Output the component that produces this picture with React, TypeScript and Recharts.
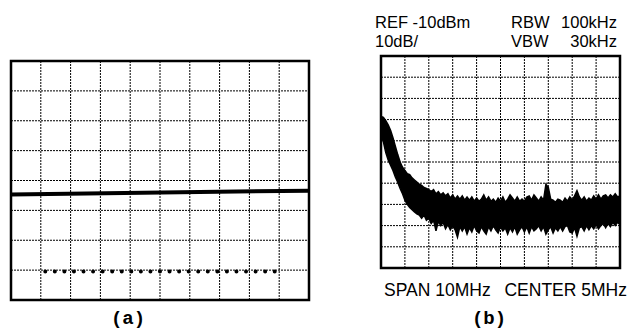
import React from 'react';
import { ComposedChart, Line, Area, XAxis, YAxis, ReferenceLine, ReferenceArea } from 'recharts';

// ---------- Panel (a) ----------
const A_GRID_COLS = [1, 2, 3, 4, 5, 6, 7, 8, 9];
const A_GRID_ROWS = [1, 2, 3, 4, 5, 6, 7];
const A_SOLID_X = [0, 10];
const A_SOLID_Y = [3.53, 3.66];
const A_DOTTED_X = [1.15, 8.87];
const A_DOTTED_Y = [0.95, 0.95];

// ---------- Panel (b) spectrum ----------
const B_GRID_MHZ = [1, 2, 3, 4, 5, 6, 7, 8, 9];
const B_GRID_DBM = [-100, -90, -80, -70, -60, -50, -40, -30, -20];
const FREQ_MHZ = [
  0, 0.1, 0.2, 0.3, 0.4, 0.5, 0.6, 0.7, 0.8, 0.9,
  1, 1.1, 1.2, 1.3, 1.4, 1.5, 1.6, 1.7, 1.8, 1.9,
  2, 2.1, 2.2, 2.3, 2.4, 2.5, 2.6, 2.7, 2.8, 2.9,
  3, 3.1, 3.2, 3.3, 3.4, 3.5, 3.6, 3.7, 3.8, 3.9,
  4, 4.1, 4.2, 4.3, 4.4, 4.5, 4.6, 4.7, 4.8, 4.9,
  5, 5.1, 5.2, 5.3, 5.4, 5.5, 5.6, 5.7, 5.8, 5.9,
  6, 6.1, 6.2, 6.3, 6.4, 6.5, 6.6, 6.7, 6.8, 6.9,
  7, 7.1, 7.2, 7.3, 7.4, 7.5, 7.6, 7.7, 7.8, 7.9,
  8, 8.1, 8.2, 8.3, 8.4, 8.5, 8.6, 8.7, 8.8, 8.9,
  9, 9.1, 9.2, 9.3, 9.4, 9.5, 9.6, 9.7, 9.8, 9.9,
  10,
];
const TRACE_HI_DBM = [
  -38.5, -39, -40.5, -42.5, -45, -48.5, -52.5, -56.5, -60, -62.5,
  -64, -65.5, -66, -67.5, -68.5, -69.5, -70.5, -71, -72, -72.5,
  -73, -74, -73, -75, -74, -75.5, -74.5, -76, -75, -77,
  -75.5, -77.5, -76, -77.5, -76, -78, -76.5, -78, -76.5, -78.5,
  -77, -78.5, -77.5, -75.5, -78, -76.5, -78.5, -77.5, -79, -77,
  -78.5, -76.5, -79, -77.5, -75.5, -77, -78.5, -76.5, -78.5, -77.5,
  -78.5, -76.5, -76, -78, -75.5, -77, -78.5, -76.5, -78, -70.5,
  -72, -77.5, -78, -79, -77.5, -78, -79, -77, -78.5, -76.5,
  -78, -76, -73.5, -76.5, -78, -76.5, -78.5, -77, -78, -76,
  -77.5, -75.5, -77.5, -76, -75.5, -77, -75.5, -76.5, -75, -76.5,
  -76,
];
const TRACE_LO_DBM = [
  -47, -50.5, -55.5, -59, -61.5, -64, -67, -69.5, -72.5, -75,
  -78, -80, -81.5, -82.5, -83.5, -84.5, -85, -86.5, -85, -87.5,
  -86.5, -89, -87.5, -92.5, -88, -90, -88.5, -91.5, -89.5, -92,
  -90, -92, -95.5, -90.5, -92.5, -90.5, -94, -91, -93, -90,
  -92.5, -93.5, -90.5, -92.5, -94, -90.5, -92.5, -90, -92, -93.5,
  -90.5, -92.5, -91, -94, -91, -93, -90.5, -94, -92, -90.5,
  -93, -90.5, -93.5, -90.5, -92.5, -91.5, -90, -92.5, -90.5, -94,
  -92, -90.5, -93.5, -91, -92.5, -90.5, -92.5, -90.5, -90, -93,
  -93.5, -91, -95, -91, -90.5, -92.5, -90, -92, -90, -91.5,
  -89.5, -91.5, -90, -89, -91, -89, -90.5, -88.5, -90, -88.5,
  -89.5,
];

const solidData = A_SOLID_X.map((x, i) => ({ x, y: A_SOLID_Y[i] }));
const dottedData = A_DOTTED_X.map((x, i) => ({ x, y: A_DOTTED_Y[i] }));
const spectrumData = FREQ_MHZ.map((f, i) => ({ f, band: [TRACE_LO_DBM[i], TRACE_HI_DBM[i]] }));

const GRID_STROKE = '#000';
const GRID_DASH = '2 1';
const SANS = '"Liberation Sans", Arial, sans-serif';
const MONO = '"Liberation Mono", "Courier New", monospace';

function PanelA() {
  return (
    <ComposedChart width={304} height={245} margin={{ top: 3, right: 3, bottom: 3, left: 3 }}>
      <XAxis type="number" dataKey="x" domain={[0, 10]} hide allowDataOverflow />
      <YAxis type="number" dataKey="y" domain={[0, 8]} hide allowDataOverflow />
      {A_GRID_COLS.map((c) => (
        <ReferenceLine key={'c' + c} x={c} stroke={GRID_STROKE} strokeWidth={1} strokeDasharray={GRID_DASH} />
      ))}
      {A_GRID_ROWS.map((r) => (
        <ReferenceLine key={'r' + r} y={r} stroke={GRID_STROKE} strokeWidth={1} strokeDasharray={GRID_DASH} />
      ))}
      <Line data={solidData} dataKey="y" type="linear" stroke="#000" strokeWidth={4} dot={false} isAnimationActive={false} />
      <Line data={dottedData} dataKey="y" type="linear" stroke="#000" strokeWidth={4} strokeLinecap="round" strokeDasharray="0 9.56" dot={false} isAnimationActive={false} />
      <ReferenceArea x1={0} x2={10} y1={0} y2={8} fill="none" stroke="#000" strokeWidth={2.5} ifOverflow="visible" />
    </ComposedChart>
  );
}

function PanelB() {
  return (
    <ComposedChart width={245} height={218} margin={{ top: 3, right: 3, bottom: 3, left: 3 }} data={spectrumData}>
      <XAxis type="number" dataKey="f" domain={[0, 10]} hide allowDataOverflow />
      <YAxis type="number" domain={[-110, -10]} hide allowDataOverflow />
      {B_GRID_MHZ.map((c) => (
        <ReferenceLine key={'c' + c} x={c} stroke={GRID_STROKE} strokeWidth={1} strokeDasharray={GRID_DASH} />
      ))}
      {B_GRID_DBM.map((r) => (
        <ReferenceLine key={'r' + r} y={r} stroke={GRID_STROKE} strokeWidth={1} strokeDasharray={GRID_DASH} />
      ))}
      <Area dataKey="band" type="linear" stroke="#000" strokeWidth={1.5} fill="#000" fillOpacity={1} isAnimationActive={false} />
      <ReferenceArea x1={0} x2={10} y1={-110} y2={-10} fill="none" stroke="#000" strokeWidth={2.5} ifOverflow="visible" />
    </ComposedChart>
  );
}

export default function App() {
  return (
    <div style={{ position: 'absolute', left: 0, top: 0, width: 628, height: 330, background: '#fff', overflow: 'hidden' }}>
      <div style={{ position: 'absolute', left: 8, top: 58 }}>
        <PanelA />
      </div>
      <div style={{ position: 'absolute', left: 378, top: 53 }}>
        <PanelB />
      </div>
      <svg width={628} height={330} style={{ position: 'absolute', left: 0, top: 0, pointerEvents: 'none' }}>
        <g fontFamily={SANS} fontSize={16.5} fill="#000">
          <text x={375} y={28}>REF -10dBm</text>
          <text x={375} y={47}>10dB/</text>
          <text x={511} y={28}>RBW</text>
          <text x={617} y={28} textAnchor="end">100kHz</text>
          <text x={511} y={47}>VBW</text>
          <text x={617} y={47} textAnchor="end">30kHz</text>
        </g>
        <g fontFamily={SANS} fontSize={17.5} fill="#000">
          <text x={384} y={296}>SPAN 10MHz</text>
          <text x={627} y={296} textAnchor="end">CENTER 5MHz</text>
        </g>
        <g fontFamily={MONO} fontSize={19} fontWeight="bold" fill="#000">
          <text x={128} y={324} textAnchor="middle">(a)</text>
          <text x={489} y={324} textAnchor="middle">(b)</text>
        </g>
      </svg>
    </div>
  );
}
